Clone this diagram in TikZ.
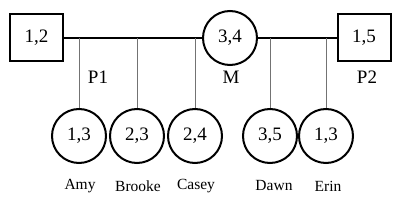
\documentclass[tikz,border=0pt]{standalone}
\usepackage{fontspec}
\setmainfont{Liberation Serif}
\begin{document}
\begin{tikzpicture}[x=1pt,y=-1pt,
  person/.style={draw,line width=2pt,inner sep=0pt,font=\fontsize{19}{19}\selectfont},
  male/.style={person,rectangle,minimum width=53pt,minimum height=47pt},
  female/.style={person,circle,minimum size=54pt},
  bond/.style={line width=1.4pt},
  kid/.style={line width=0.6pt,black!55},
  lab/.style={font=\fontsize{19}{19}\selectfont,inner sep=0pt},
  nm/.style={font=\fontsize{15.5}{15.5}\selectfont,inner sep=0pt}]
\useasboundingbox (0,0) rectangle (400,211);
\node[male] (p1) at (36.5,38) {1,2};
\node[female] (m) at (230,38) {3,4};
\node[male] (p2) at (364,38) {1,5};
\draw[bond] (p1.east) -- (m.west);
\draw[bond] (m.east) -- (p2.west);
\node[female] (amy) at (79,136) {1,3};
\node[female] (brooke) at (137,136) {2,3};
\node[female] (casey) at (195,136) {2,4};
\node[female] (dawn) at (270,136) {3,5};
\node[female] (erin) at (326,136) {1,3};
\foreach \c in {amy,brooke,casey,dawn,erin}{
  \draw[kid] (\c.north) -- (\c.north |- m.center);
}
\node[lab] (l1) at (98,77) {P1};
\node[lab] (lm) at (231,77) {M};
\node[lab] (l2) at (367,77) {P2};
\node[nm] (n1) at (80,186) {Amy};
\node[nm] (n2) at (138,186) {Brooke};
\node[nm] (n3) at (196,186) {Casey};
\node[nm] (n4) at (274,186) {Dawn};
\node[nm] (n5) at (328,186) {Erin};
\end{tikzpicture}
\end{document}
